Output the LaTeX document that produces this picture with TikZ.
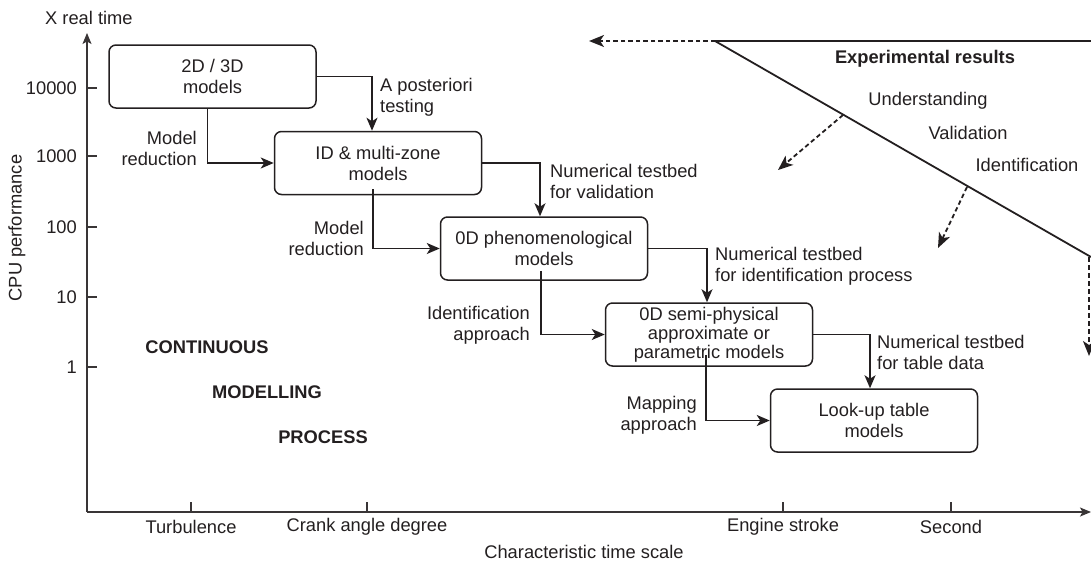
\documentclass[tikz,border=0pt]{standalone}
\usepackage{fontspec}
\setmainfont{Liberation Sans}
\usetikzlibrary{arrows.meta}
\definecolor{ink}{HTML}{231F20}
\begin{document}
\begin{tikzpicture}[x=1pt,y=-1pt,
  every node/.style={text=ink,font=\fontsize{18.3}{21}\selectfont},
  box/.style={draw=ink,line width=1.5pt,rounded corners=7pt,minimum width=207pt,minimum height=63pt,align=center,inner sep=2pt},
  arr/.style={draw=ink,line width=1.7pt,-{Stealth[length=13pt,width=11pt,inset=3.5pt]}},
  darr/.style={draw=ink,line width=1.8pt,dash pattern=on 4.5pt off 3pt,-{Stealth[length=15pt,width=12pt,inset=4pt]}},
  axis/.style={draw=ink!90,line width=1.1pt},
  lbl/.style={align=left,anchor=west,inner sep=0pt},
  rlbl/.style={align=right,anchor=east,inner sep=0pt},
  big/.style={font=\fontsize{18.3}{21}\selectfont\bfseries,inner sep=0pt}]
\useasboundingbox (0,0) rectangle (1091,566);
% axes
\coordinate (O) at (87,512);
\coordinate (Ytop) at (87,33);
\coordinate (Xend) at (1091,512);
\draw[axis,-{Stealth[length=11pt,width=9pt,inset=2.5pt]}] (O) -- (Ytop);
\draw[axis,-{Stealth[length=11pt,width=9pt,inset=2.5pt]}] (O) -- (Xend);
\node[anchor=west,inner sep=0pt] (xrt) at (45,18) {X real time};
\node[rotate=90,inner sep=0pt] (cpu) at (17,228) {CPU performance};
\node[inner sep=0pt] (cts) at (584,552) {Characteristic time scale};
% y ticks
\foreach \yy/\t in {88/10000,156/1000,227/100,297/10,367/1}{
  \draw[axis] (87,\yy) -- (97,\yy);
  \node[anchor=east,inner sep=0pt] at (77,\yy) {\t};
}
% x ticks
\foreach \xx/\t in {191/Turbulence,367/Crank angle degree,783/Engine stroke,951/Second}{
  \draw[axis] (\xx,502) -- (\xx,512);
  \node[inner sep=0pt] at (\xx,527) {\t};
}
% boxes
\node[box] (b1) at (212.5,76.5) {2D / 3D\\models};
\node[box] (b2) at (378,163) {ID \& multi-zone\\models};
\node[box] (b3) at (544,248.5) {0D phenomenological\\models};
\node[box,font=\fontsize{18.3}{19}\selectfont] (b4) at (709,334.5) {0D semi-physical\\approximate or\\parametric models};
\node[box] (b5) at (874,420.5) {Look-up table\\models};
% right connectors
\draw[arr] (b1.east) -| ([xshift=-6pt]b2.north);
\draw[arr] (b2.east) -| ([xshift=-4pt]b3.north);
\draw[arr] (b3.east) -| ([xshift=-2pt]b4.north);
\draw[arr] (b4.east) -| ([xshift=-4pt]b5.north);
% bottom connectors
\draw[arr] ([xshift=-5pt]b1.south) |- (b2.west);
\draw[arr] ([xshift=-5pt,yshift=6pt]b2.south) |- (b3.west);
\draw[arr] ([xshift=-3pt,yshift=10pt]b3.south) |- (b4.west);
\draw[arr] ([xshift=-3pt,yshift=12pt]b4.south) |- (b5.west);
% labels
\node[lbl] at (380,97) {A posteriori\\testing};
\node[rlbl] at (197,148) {Model\\reduction};
\node[lbl] at (550,181) {Numerical testbed\\for validation};
\node[rlbl] at (364,238) {Model\\reduction};
\node[lbl] at (715,266) {Numerical testbed\\for identification process};
\node[rlbl] at (530,325) {Identification\\approach};
\node[lbl] at (877,352) {Numerical testbed\\for table data};
\node[rlbl] at (697,415) {Mapping\\approach};
% continuous modelling process
\node[big] at (207,347) {CONTINUOUS};
\node[big] at (267,392) {MODELLING};
\node[big] at (323,437) {PROCESS};
% experimental results
\coordinate (E0) at (715,41);
\coordinate (Eright) at (1091,41);
\coordinate (Eleft) at (589,41);
\coordinate (D1) at (1091,257);
\coordinate (V1) at (1089,257);
\coordinate (V2) at (1089,356);
\coordinate (U0) at (843,115);
\coordinate (U1) at (778,170);
\coordinate (I0) at (967,187);
\coordinate (I1) at (938,248);
\draw[ink,line width=1.8pt] (E0) -- (Eright);
\draw[ink,line width=1.8pt] (E0) -- (D1);
\draw[darr] (E0) -- (Eleft);
\draw[darr,line width=1.2pt,dash pattern=on 5pt off 3pt] (V1) -- (V2);
\draw[darr] (U0) -- (U1);
\draw[darr] (I0) -- (I1);
\node[big] at (925,59) {Experimental results};
\node[inner sep=0pt] at (928,101) {Understanding};
\node[inner sep=0pt] at (968,133) {Validation};
\node[inner sep=0pt] at (1027,165) {Identification};
\end{tikzpicture}
\end{document}
